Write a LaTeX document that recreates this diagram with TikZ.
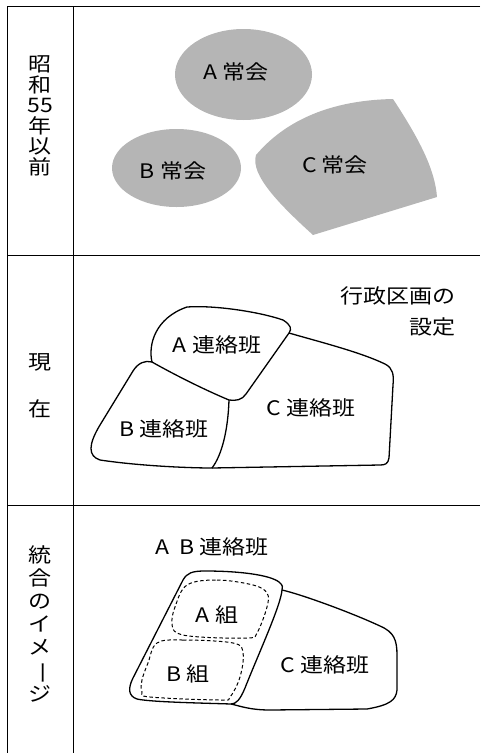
\documentclass[tikz,border=0pt]{standalone}
\usepackage{fontspec}
\setmainfont{Noto Sans CJK JP}[FakeStretch=1.15]
\usepackage{graphicx}
\usepackage{tikz}
\definecolor{kaigray}{gray}{0.71}

\begin{document}
\begin{tikzpicture}[x=1pt, y=-1pt,
    waku/.style={line width=1pt},
    kuiki/.style={line width=1.3pt, line join=round},
    kumi/.style={line width=1pt, dash pattern=on 3.5pt off 2.5pt},
    moji/.style={font=\fontsize{20}{20}\selectfont, inner sep=0pt}]
  \useasboundingbox (0,0) rectangle (480,753);
  %%%%% START %%%%%
  \draw[waku] (480,6) -- (7,6) -- (7,753);
  \draw[waku] (73,6) -- (73,753);
  \draw[waku] (7,255) -- (480,255);
  \draw[waku] (7,505) -- (480,505);

  \node[moji, align=center, font=\fontsize{20}{20.5}\selectfont] (showa) at (40,116) {昭\\和\\55\\年\\以\\前};
  \node[moji] (gen) at (40,362) {現};
  \node[moji] (zai) at (40,409) {在};
  \node[moji, align=center, font=\fontsize{20}{23}\selectfont] (tougou) at (40,624) {統\\合\\の\\イ\\メ\\\rotatebox[origin=c]{-90}{ー}\\ジ};

  % before
  \fill[kaigray] (243.5,74.5) ellipse (68.5 and 45.5);
  \fill[kaigray] (176.5,168) ellipse (64.5 and 39);
  \fill[kaigray] (313,235) .. controls (280,205) and (250,175) .. (256,155)
    .. controls (290,115) and (340,100) .. (393,99)
    .. controls (420,140) and (435,170) .. (437,197) -- cycle;
  \node[moji] (kaiA) at (236,72) {A 常会};
  \node[moji] (kaiB) at (173,171) {B 常会};
  \node[moji] (kaiC) at (335,165) {C 常会};

  % now
  \coordinate (jAB) at (152,362);
  \coordinate (jAC) at (289,333);
  \coordinate (jABC) at (229,400);
  \coordinate (jBC) at (212,468);
  \draw[kuiki] (jAB) .. controls (148,345) and (155,318) .. (187,307)
    .. controls (215,305) and (260,312) .. (283,320)
    .. controls (291,325) and (292,329) .. (jAC) -- (246,394)
    .. controls (242,400) and (236,401) .. (jABC)
    .. controls (205,390) and (175,375) .. (jAB);
  \draw[kuiki] (jAB) .. controls (145,360) and (138,363) .. (133,371) -- (100,425)
    .. controls (88,445) and (88,456) .. (100,460)
    .. controls (140,466) and (190,468) .. (jBC)
    .. controls (222,455) and (228,430) .. (jABC);
  \draw[kuiki] (jAC) .. controls (320,342) and (360,352) .. (385,364)
    .. controls (393,368) and (394,375) .. (393,385) -- (389,458)
    .. controls (388,464) and (385,465) .. (380,465) -- (jBC);
  \node[moji] (hanA) at (217,345) {A 連絡班};
  \node[moji] (hanB) at (164,429) {B 連絡班};
  \node[moji] (hanC) at (311,408) {C 連絡班};
  \node[moji, align=right, anchor=east, font=\fontsize{20}{31}\selectfont] (settei) at (456,311) {行政区画の\\設定};

  % merged
  \coordinate (kTop) at (282,590);
  \coordinate (kBot) at (231,704);
  \draw[kuiki] (133,678) -- (183,580) .. controls (187,573) and (192,571) .. (205,571)
    .. controls (240,571) and (270,575) .. (279,582)
    .. controls (283,585) and (283,588) .. (kTop)
    .. controls (281,605) and (258,655) .. (245,688)
    .. controls (240,700) and (236,704) .. (kBot)
    .. controls (200,703) and (150,702) .. (137,699)
    .. controls (128,696) and (128,688) .. (133,678) -- cycle;
  \draw[kuiki] (kTop) .. controls (300,594) and (350,612) .. (380,626)
    .. controls (394,632) and (397,640) .. (397,655) -- (397,690)
    .. controls (396,700) and (390,705) .. (367,709) -- (270,710)
    .. controls (250,710) and (240,706) .. (kBot);
  \draw[kumi] plot[smooth cycle, tension=0.6] coordinates {(187,585) (217,580) (253,585) (267,593) (267,607) (257,633) (248,638) (200,637) (177,633) (172,623) (175,607)};
  \draw[kumi] plot[smooth cycle, tension=0.6] coordinates {(157,643) (183,640) (233,643) (243,653) (240,677) (230,697) (220,700) (150,697) (142,692) (142,680) (148,663)};
  \node[moji] (hanAB) at (212,547) {A\enspace B 連絡班};
  \node[moji] (kumiA) at (217,615) {A 組};
  \node[moji] (kumiB) at (188,674) {B 組};
  \node[moji] (hanC2) at (325,665) {C 連絡班};
  %%%%% END %%%%%
\end{tikzpicture}
\end{document}
